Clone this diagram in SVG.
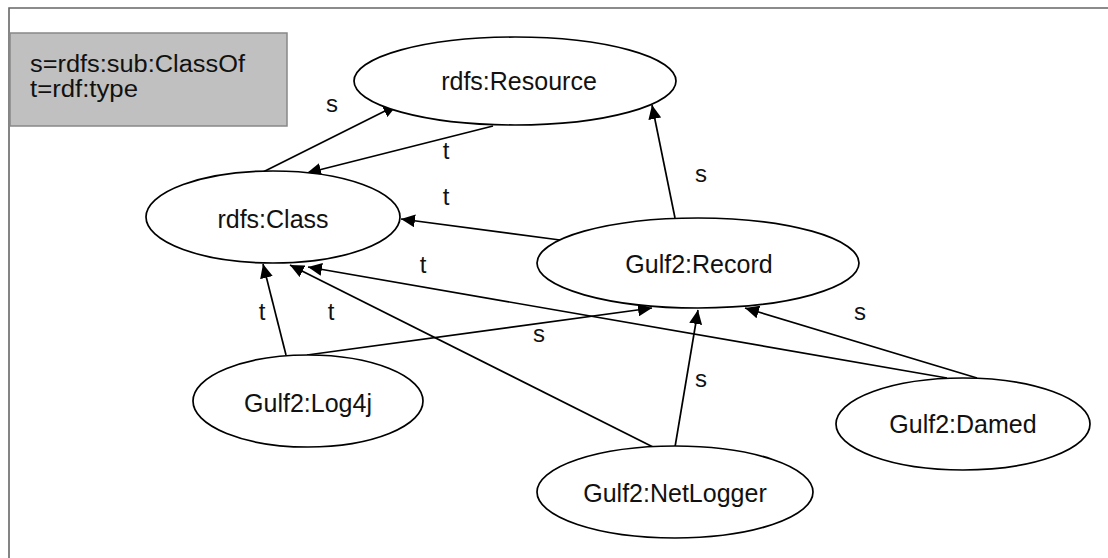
<svg xmlns="http://www.w3.org/2000/svg" width="1108" height="558" viewBox="0 0 1108 558">
<style>
.node ellipse{fill:#fff;stroke:#000;stroke-width:1.7}
.node text{font-family:"Liberation Sans",Arial,sans-serif;font-size:25px;fill:#111;text-anchor:middle}
.edge line{stroke:#000;stroke-width:1.7;marker-end:url(#arr)}
.lbl{font-family:"Liberation Sans",Arial,sans-serif;font-size:24px;fill:#111;text-anchor:middle}
.legend text{font-family:"Liberation Sans",Arial,sans-serif;font-size:23px;fill:#111}
</style>
<defs>
<marker id="arr" markerUnits="userSpaceOnUse" markerWidth="15" markerHeight="13" refX="14" refY="6.5" orient="auto">
<path d="M0,0 L14,6.5 L0,13 z" fill="#000"/>
</marker>
</defs>
<rect width="1108" height="558" fill="#fff"/>
<path d="M9,558 V8 H1108" fill="none" stroke="#666" stroke-width="1.6"/>
<g id="legend" class="legend">
<rect x="10" y="33" width="277" height="93" fill="#c0c0c0" stroke="#888" stroke-width="1.5"/>
<text x="30" y="72" textLength="215" lengthAdjust="spacingAndGlyphs">s=rdfs:sub:ClassOf</text>
<text x="30" y="97" textLength="108" lengthAdjust="spacingAndGlyphs">t=rdf:type</text>
</g>
<g id="connectors">
<g class="edge">
<line x1="263" y1="172" x2="397" y2="105"/>
<line x1="493" y1="126" x2="307" y2="173"/>
<line x1="560" y1="240" x2="401" y2="219"/>
<line x1="675" y1="218" x2="652" y2="105"/>
<line x1="286" y1="355" x2="263" y2="264"/>
<line x1="653" y1="447" x2="290" y2="265"/>
<line x1="947" y1="378" x2="308" y2="267"/>
<line x1="307" y1="355" x2="652" y2="308"/>
<line x1="675" y1="447" x2="698" y2="310"/>
<line x1="977" y1="378" x2="745" y2="308"/>
</g>
<text class="lbl" x="332" y="112">s</text>
<text class="lbl" x="446" y="159">t</text>
<text class="lbl" x="446" y="205">t</text>
<text class="lbl" x="701" y="182">s</text>
<text class="lbl" x="262" y="320">t</text>
<text class="lbl" x="331" y="320">t</text>
<text class="lbl" x="423" y="273">t</text>
<text class="lbl" x="539" y="342">s</text>
<text class="lbl" x="701" y="387">s</text>
<text class="lbl" x="860" y="320">s</text>
</g>
<g id="rdfs-resource" class="node">
<ellipse cx="515" cy="81" rx="161" ry="44"/>
<text x="519" y="90">rdfs:Resource</text>
</g>
<g id="rdfs-class" class="node">
<ellipse cx="273" cy="217" rx="127" ry="46"/>
<text x="273" y="228">rdfs:Class</text>
</g>
<g id="gulf2-record" class="node">
<ellipse cx="698" cy="263" rx="161" ry="45"/>
<text x="699" y="273">Gulf2:Record</text>
</g>
<g id="gulf2-log4j" class="node">
<ellipse cx="308" cy="401" rx="115" ry="46"/>
<text x="308" y="412">Gulf2:Log4j</text>
</g>
<g id="gulf2-netlogger" class="node">
<ellipse cx="675" cy="492" rx="138" ry="46"/>
<text x="675" y="502">Gulf2:NetLogger</text>
</g>
<g id="gulf2-damed" class="node">
<ellipse cx="963" cy="424" rx="127" ry="46"/>
<text x="963" y="433">Gulf2:Damed</text>
</g>
</svg>
